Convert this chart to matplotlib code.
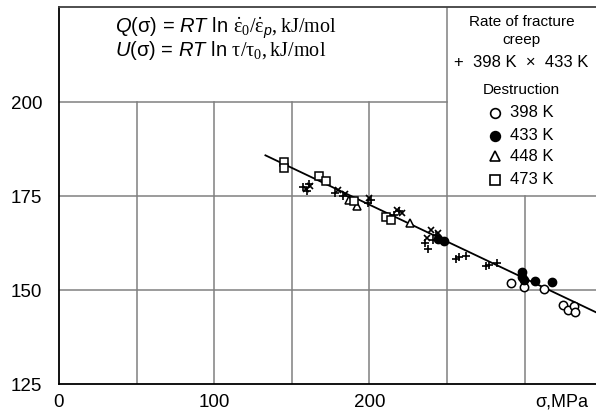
import matplotlib
matplotlib.use('Agg')
import matplotlib.pyplot as plt

plt.rcParams['font.family'] = ['Liberation Sans', 'DejaVu Sans']
plt.rcParams['mathtext.fontset'] = 'custom'
plt.rcParams['mathtext.rm'] = 'Liberation Serif'
plt.rcParams['mathtext.it'] = 'Liberation Sans:italic'
plt.rcParams['mathtext.sf'] = 'Liberation Sans'

# creep, 398 K (+) and 433 K (x)
creep398_x = [157, 160, 161, 178, 183, 199, 201, 216, 219, 236, 238, 241, 243, 256, 258, 262, 275, 277, 282]
creep398_y = [177.5, 176.5, 178.2, 175.8, 175.0, 173.2, 174.0, 170.0, 171.0, 162.5, 161.0, 163.3, 164.6,
              158.3, 158.7, 159.2, 156.4, 156.8, 157.1]
creep433_x = [159, 162, 180, 184, 200, 218, 221, 237, 240, 244]
creep433_y = [176.8, 177.8, 176.6, 175.5, 174.5, 171.3, 170.6, 163.8, 166.0, 165.2]

# destruction
d398_x = [291.4, 299.6, 312.3, 324.7, 328.2, 331.6, 332.3]
d398_y = [151.8, 150.8, 150.2, 146.0, 144.7, 145.9, 144.1]
d433_x = [244.1, 247.8, 298.6, 298.6, 299.5, 306.5, 317.6]
d433_y = [163.5, 163.0, 154.9, 153.6, 152.6, 152.4, 152.1]
d448_x = [187, 192, 226]
d448_y = [174.0, 172.5, 167.9]
d473_x = [145, 145, 167.6, 172.3, 190, 211, 214]
d473_y = [184.2, 182.4, 180.3, 179.0, 173.8, 169.5, 168.8]

# fitted line
fit_x = [133, 346]
fit_y = [185.9, 144.1]

fig = plt.figure(figsize=(5.96, 4.12), dpi=100)
ax = fig.add_axes([59 / 596, 28 / 412, 537 / 596, 377 / 412])
ax.set_xlim(0, 346)
ax.set_ylim(125, 225.4)

grid = dict(color='#808080', lw=1.1, zorder=1)
for gx in [50, 100, 150, 200]:
    ax.plot([gx, gx], [125, 200], **grid)
ax.plot([250, 250], [125, 225.4], **grid)
ax.plot([300, 300], [125, 175], **grid)
ax.plot([0, 346], [150, 150], **grid)
ax.plot([0, 346], [175, 175], **grid)
ax.plot([0, 250], [200, 200], **grid)

ax.spines['right'].set_visible(False)
ax.spines['top'].set_color('#404040')
for s in ['left', 'bottom', 'top']:
    ax.spines[s].set_linewidth(1.3)

ax.set_xticks([0, 100, 200])
ax.set_yticks([125, 150, 175, 200])
ax.tick_params(length=0, labelsize=13.5)
ax.tick_params(axis='x', pad=7)
ax.tick_params(axis='y', pad=12)
ax.text(324, 122.5, 'σ,MPa', fontsize=13, ha='center', va='top', clip_on=False)

ax.plot(fit_x, fit_y, color='black', lw=1.3, zorder=2)

ms = 6
ax.plot(creep398_x, creep398_y, '+', color='black', ms=ms, mew=1.2, ls='none', zorder=3)
ax.plot(creep433_x, creep433_y, 'x', color='black', ms=ms - 1, mew=1.2, ls='none', zorder=3)
ax.plot(d398_x, d398_y, 'o', mfc='white', mec='black', ms=ms, mew=1.1, ls='none', zorder=3)
ax.plot(d433_x, d433_y, 'o', mfc='black', mec='black', ms=ms, ls='none', zorder=3)
ax.plot(d448_x, d448_y, '^', mfc='white', mec='black', ms=ms, mew=1.1, ls='none', zorder=3)
ax.plot(d473_x, d473_y, 's', mfc='white', mec='black', ms=ms, mew=1.1, ls='none', zorder=3)

# equation box
ax.text(36, 218.4, r'$Q$(σ) = $RT$ ln $\mathrm{\dot{ε}_0/\dot{ε}_{\mathit{p}},kJ/mol}$',
        fontsize=14.5, va='baseline', ha='left')
ax.text(36, 212.3, r'$U$(σ) = $RT$ ln $\mathrm{τ/τ_0,kJ/mol}$',
        fontsize=14.5, va='baseline', ha='left')

# legend box
ax.text(298, 221.5, 'Rate of fracture', fontsize=11, ha='center', va='center')
ax.text(298, 216.7, 'creep', fontsize=11, ha='center', va='center')
ax.text(298, 210.6, '+  398 K  ×  433 K', fontsize=12, ha='center', va='center')
ax.text(298, 203.2, 'Destruction', fontsize=11, ha='center', va='center')
leg_y = [197.3, 191.1, 185.6, 179.4]
leg_lab = ['398 K', '433 K', '448 K', '473 K']
leg_mk = [('o', 'white'), ('o', 'black'), ('^', 'white'), ('s', 'white')]
for yy, lab, (mk, fc) in zip(leg_y, leg_lab, leg_mk):
    ax.plot([280.7], [yy], mk, mfc=fc, mec='black', ms=7, mew=1.2)
    ax.text(290.4, yy, lab, fontsize=12, ha='left', va='center')

fig.savefig('out.png', dpi=100)
